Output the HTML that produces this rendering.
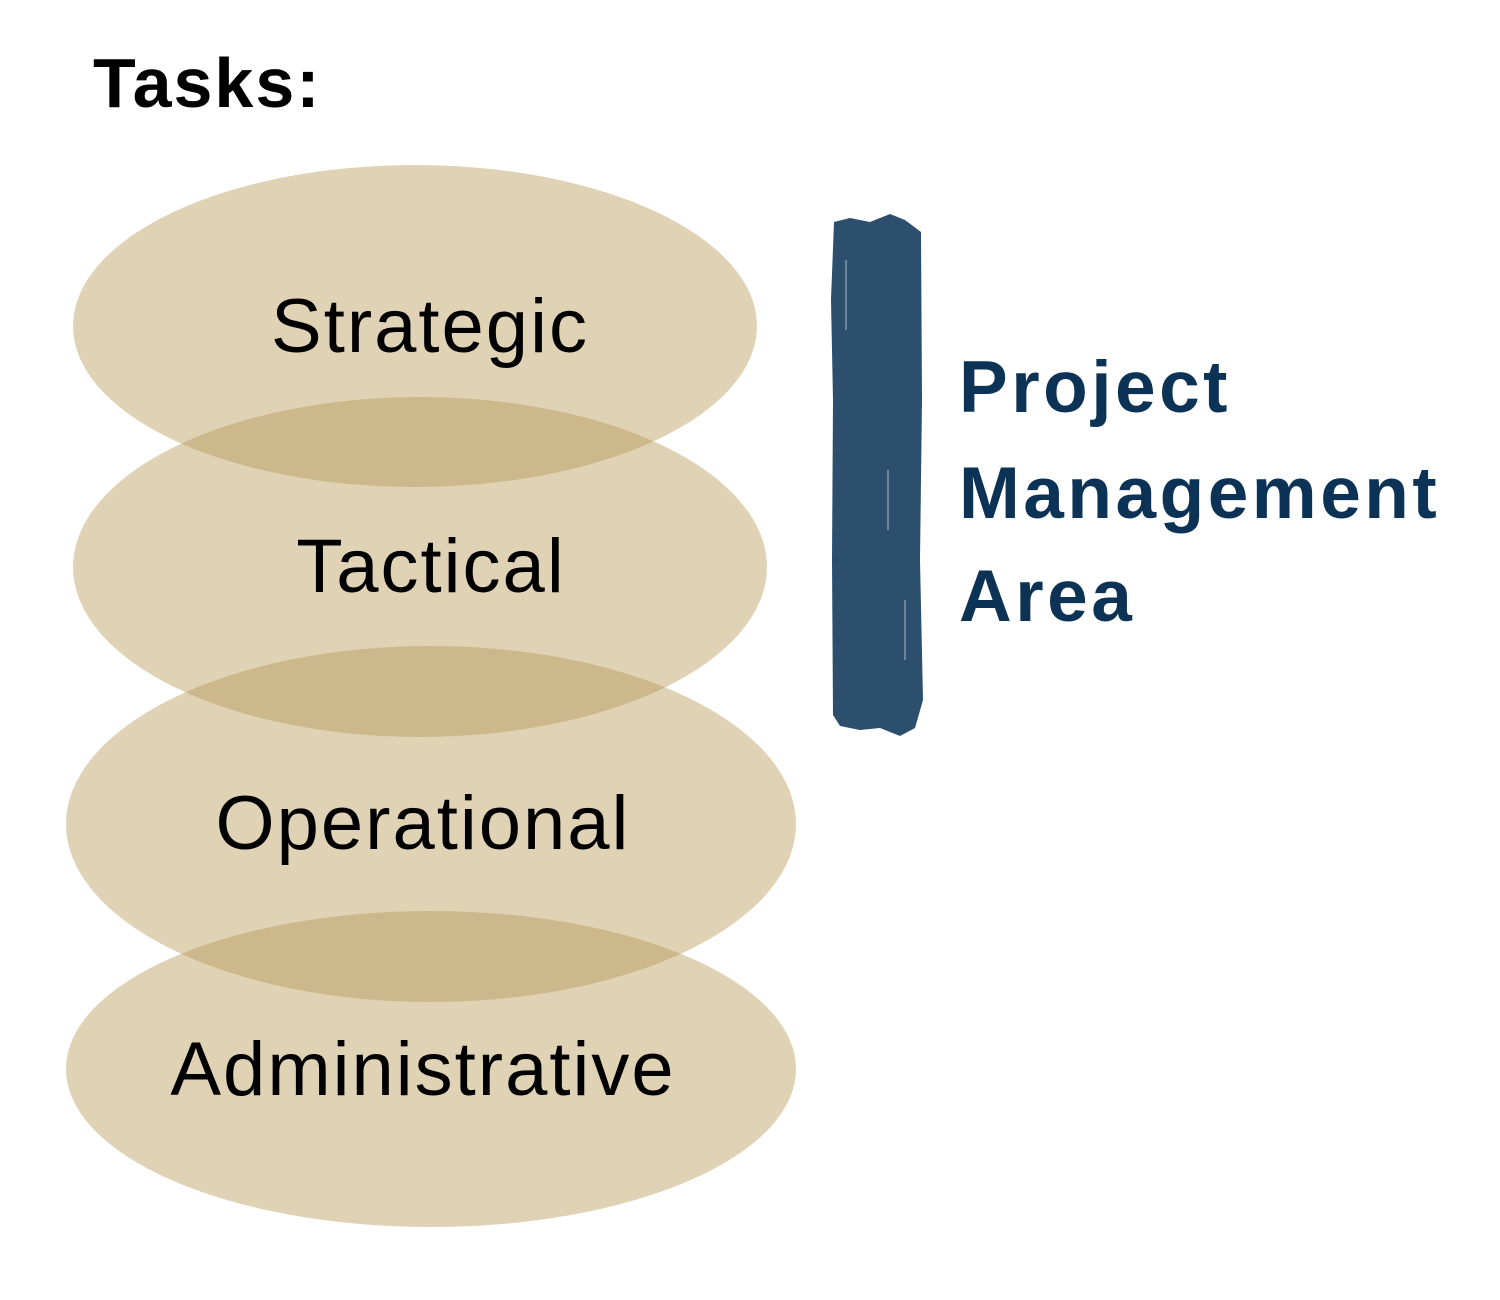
<!DOCTYPE html>
<html><head><meta charset="utf-8"><style>
html,body{margin:0;padding:0;background:#fff;}
body{width:1500px;height:1300px;position:relative;overflow:hidden;font-family:"Liberation Sans",sans-serif;}
</style></head><body>
<svg width="1500" height="1300" viewBox="0 0 1500 1300" xmlns="http://www.w3.org/2000/svg" style="position:absolute;left:0;top:0">
<g fill="rgb(181,150,83)" fill-opacity="0.43">
<ellipse cx="415" cy="326" rx="342" ry="161"/>
<ellipse cx="420" cy="567" rx="347" ry="170"/>
<ellipse cx="431" cy="824" rx="365" ry="178"/>
<ellipse cx="431" cy="1069" rx="365" ry="158"/>
</g>
<text x="93" y="107" font-family="Liberation Sans, sans-serif" font-weight="bold" font-size="70" letter-spacing="2" fill="#000">Tasks:</text>
<g font-family="Liberation Sans, sans-serif" font-size="76" letter-spacing="2" fill="#000" text-anchor="middle">
<text x="430" y="352">Strategic</text>
<text x="431" y="592">Tactical</text>
<text x="423" y="849">Operational</text>
<text x="423" y="1095">Administrative</text>
</g>
<path d="M834 222 L850 218 L870 222 L890 214 L905 220 L921 232 L922 400 L920 560 L923 700 L915 728 L900 736 L880 728 L860 730 L840 726 L833 715 L832 560 L833 400 L831 300 Z" fill="#2c4f6e"/>
<g stroke="#fff" stroke-width="1.5" opacity="0.4">
<line x1="846" y1="260" x2="846" y2="330"/>
<line x1="888" y1="470" x2="888" y2="530"/>
<line x1="905" y1="600" x2="905" y2="660"/>
</g>
<g font-family="Liberation Sans, sans-serif" font-weight="bold" font-size="73" letter-spacing="3.5" fill="#0c3355">
<text x="959" y="412">Project</text>
<text x="959" y="518">Management</text>
<text x="959" y="621">Area</text>
</g>
</svg>
</body></html>
